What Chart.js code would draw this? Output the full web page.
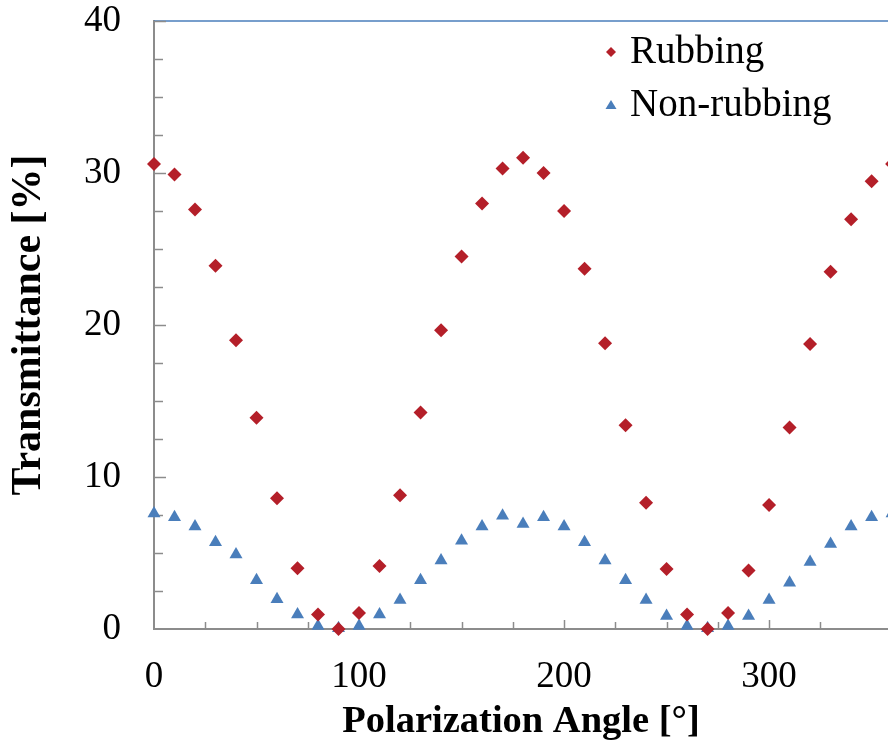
<!DOCTYPE html>
<html>
<head>
<meta charset="utf-8">
<script src="https://cdn.jsdelivr.net/npm/chart.js@4/dist/chart.umd.min.js"></script>
<style>
  body { margin: 0; background: #fff; }
  canvas { display: block; }
</style>
</head>
<body>
<canvas id="polChart" width="888" height="747"></canvas>
<script>
// polarization angle [deg], every 10 degrees
const angles = [0, 10, 20, 30, 40, 50, 60, 70, 80, 90, 100, 110, 120, 130, 140, 150, 160, 170, 180,
  190, 200, 210, 220, 230, 240, 250, 260, 270, 280, 290, 300, 310, 320, 330, 340, 350, 360];

// transmittance [%]
const rubbing = [30.6, 29.9, 27.6, 23.9, 19.0, 13.9, 8.6, 4.0, 0.95, 0.0, 1.05, 4.15, 8.8, 14.25, 19.65, 24.5,
  28.0, 30.3, 31.0, 30.0, 27.5, 23.7, 18.8, 13.4, 8.3, 3.95, 0.95, 0.0, 1.05, 3.85, 8.15, 13.25, 18.75,
  23.5, 26.95, 29.45, 30.6];
const nonRubbing = [7.6, 7.35, 6.75, 5.7, 4.9, 3.2, 1.95, 0.95, 0.2, 0.05, 0.2, 0.95, 1.9, 3.2, 4.5, 5.8,
  6.75, 7.45, 6.9, 7.35, 6.75, 5.7, 4.5, 3.2, 1.9, 0.85, 0.2, 0.05, 0.2, 0.85, 1.9, 3.05, 4.4,
  5.6, 6.75, 7.35, 7.6];

const seriesNames = ['Rubbing', 'Non-rubbing'];
const yTickLabels = [0, 10, 20, 30, 40];
const xTickLabels = [0, 100, 200, 300];

const RED = '#b41f29';
const BLUE = '#4a7ebb';
const AXIS = '#8c8c8c';
const SERIF = '"Liberation Serif", "Times New Roman", serif';

const toPoints = vals => vals.map((v, i) => ({ x: angles[i], y: v }));

// tick marks pointing inward + the blue line on top
const axisDecor = {
  id: 'axisDecor',
  beforeDatasetsDraw(chart) {
    const { ctx, chartArea, scales } = chart;
    const x = scales.x, y = scales.y;
    ctx.save();
    ctx.strokeStyle = BLUE;
    ctx.lineWidth = 1.5;
    ctx.beginPath();
    ctx.moveTo(chartArea.left, y.getPixelForValue(40));
    ctx.lineTo(chartArea.right, y.getPixelForValue(40));
    ctx.stroke();

    ctx.strokeStyle = AXIS;
    ctx.lineWidth = 1.5;
    x.ticks.forEach(t => {
      if (t.value === 0) return;
      const px = Math.round(x.getPixelForValue(t.value)) + 0.5;
      const len = t.value % 100 === 0 ? 9 : 7;
      ctx.beginPath();
      ctx.moveTo(px, chartArea.bottom);
      ctx.lineTo(px, chartArea.bottom - len);
      ctx.stroke();
    });
    y.ticks.forEach(t => {
      if (t.value === 0) return;
      const py = Math.round(y.getPixelForValue(t.value)) + 0.5;
      const len = t.value % 10 === 0 ? 12 : 9;
      ctx.beginPath();
      ctx.moveTo(chartArea.left, py);
      ctx.lineTo(chartArea.left + len, py);
      ctx.stroke();
    });
    ctx.restore();
  }
};

// legend inside the plot, top right
const innerLegend = {
  id: 'innerLegend',
  afterDraw(chart) {
    const { ctx, chartArea } = chart;
    const mx = chartArea.right - 277;
    const rows = [52, 105];
    ctx.save();
    ctx.font = '39px ' + SERIF;
    ctx.textBaseline = 'middle';
    chart.data.datasets.forEach((ds, i) => {
      const cy = rows[i];
      ctx.fillStyle = ds.backgroundColor;
      ctx.beginPath();
      if (ds.pointStyle === 'rectRot') {
        ctx.moveTo(mx, cy - 5);
        ctx.lineTo(mx + 5, cy);
        ctx.lineTo(mx, cy + 5);
        ctx.lineTo(mx - 5, cy);
      } else {
        ctx.moveTo(mx, cy - 5);
        ctx.lineTo(mx + 5.5, cy + 4);
        ctx.lineTo(mx - 5.5, cy + 4);
      }
      ctx.closePath();
      ctx.fill();
      ctx.fillStyle = '#000';
      ctx.fillText(ds.label, mx + 19, cy + 1);
    });
    ctx.restore();
  }
};

new Chart(document.getElementById('polChart').getContext('2d'), {
  type: 'scatter',
  data: {
    datasets: [
      {
        label: seriesNames[0],
        data: toPoints(rubbing),
        pointStyle: 'rectRot',
        pointRadius: 7,
        pointHoverRadius: 7,
        backgroundColor: RED,
        borderColor: RED,
        borderWidth: 0,
        clip: false
      },
      {
        label: seriesNames[1],
        data: toPoints(nonRubbing),
        pointStyle: 'triangle',
        pointRadius: 7.5,
        pointHoverRadius: 7.5,
        backgroundColor: BLUE,
        borderColor: BLUE,
        borderWidth: 0,
        clip: false
      }
    ]
  },
  options: {
    responsive: false,
    animation: false,
    layout: { autoPadding: false, padding: { top: 21, right: 0, left: 0, bottom: 0 } },
    plugins: {
      legend: { display: false },
      tooltip: { enabled: false }
    },
    scales: {
      x: {
        type: 'linear',
        min: 0,
        max: 358,
        afterBuildTicks: s => { s.ticks = s.ticks.filter(t => t.value % 25 === 0); },
        afterFit: s => {
          s.height = 118;
          s.paddingLeft = 0;
          s.paddingRight = 0;
        },
        ticks: {
          stepSize: 25,
          autoSkip: false,
          maxRotation: 0,
          minRotation: 0,
          padding: 26,
          color: '#000',
          font: { family: SERIF, size: 37 },
          callback: v => xTickLabels.includes(v) ? String(v) : ''
        },
        grid: { display: true, drawOnChartArea: false, drawTicks: false },
        border: { color: AXIS, width: 2 },
        title: {
          display: true,
          text: 'Polarization Angle [°]',
          color: '#000',
          font: { family: SERIF, size: 38.5, weight: 'bold' },
          padding: { top: 0, bottom: 2 }
        }
      },
      y: {
        min: 0,
        max: 40,
        afterFit: s => {
          s.width = 154;
          s.paddingTop = 0;
          s.paddingBottom = 0;
        },
        ticks: {
          stepSize: 2.5,
          autoSkip: false,
          padding: 33,
          color: '#000',
          font: { family: SERIF, size: 37 },
          callback: v => yTickLabels.includes(v) ? String(v) : ''
        },
        grid: { display: true, drawOnChartArea: false, drawTicks: false },
        border: { color: AXIS, width: 2 },
        title: {
          display: true,
          text: 'Transmittance [%]',
          color: '#000',
          font: { family: SERIF, size: 42, weight: 'bold' },
          padding: { top: 4, bottom: 0 }
        }
      }
    }
  },
  plugins: [axisDecor, innerLegend]
});
</script>
</body>
</html>
